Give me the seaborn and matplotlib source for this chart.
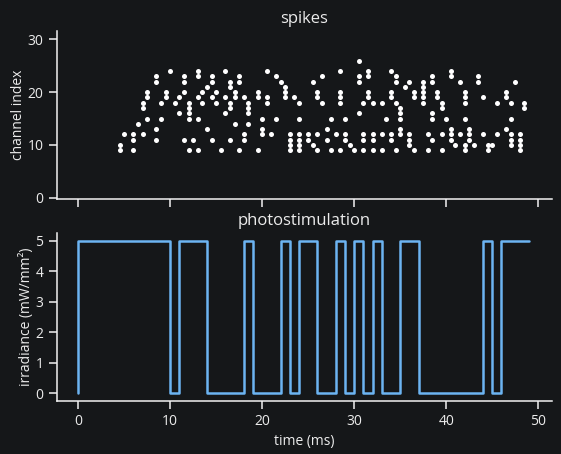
import numpy as np
import pandas as pd
import matplotlib
matplotlib.use("Agg")
import matplotlib.pyplot as plt
import seaborn as sns

# ---- data ----
spike_times = [
    4.5, 4.5, 5.0, 6.0, 6.0, 6.0, 6.5, 7.0, 7.0, 7.0, 7.5, 7.5, 7.5, 8.5, 8.5, 8.5, 8.5,
    9.0, 9.0, 9.5, 9.5, 10.0, 10.5, 11.0, 11.0, 11.5, 11.5, 11.5, 11.5, 12.0, 12.0, 12.0,
    12.0, 12.0, 12.5, 13.0, 13.0, 13.0, 13.0, 13.0, 13.5, 13.5, 14.0, 14.0, 14.5, 14.5,
    14.5, 14.5, 15.0, 15.0, 15.5,
    16.0, 16.0, 16.0, 16.5, 16.5, 16.5, 16.5, 16.5, 17.0, 17.0, 17.0, 17.5, 17.5, 17.5,
    18.0, 18.0, 18.0, 18.5, 18.5, 18.5, 18.5, 19.5, 19.5, 19.5, 20.0, 20.0, 20.0, 20.5,
    20.5, 20.5, 21.0, 21.5, 21.5, 22.0, 22.5, 22.5, 22.5, 23.0, 23.0, 23.0, 23.0, 23.5,
    24.0, 24.0, 24.0, 24.0, 24.0, 24.0, 25.0, 25.0, 25.5, 25.5, 26.0, 26.0, 26.0, 26.0,
    26.5, 26.5, 27.0, 27.0,
    27.5, 27.5, 28.0, 28.5, 28.5, 28.5, 28.5, 28.5, 29.0, 29.0, 29.0, 29.5, 30.0, 30.5,
    30.5, 30.5, 30.5, 31.0, 31.0, 31.0, 31.0, 31.5, 31.5, 31.5, 31.5, 32.0, 32.0, 32.0,
    32.0, 33.0, 33.0, 33.0, 33.5, 34.0, 34.0, 34.0, 34.0, 34.0, 34.5, 34.5, 34.5, 34.5,
    35.0, 35.0, 35.0, 35.0, 35.0, 35.5, 36.0, 36.0, 36.0, 36.0, 36.5, 36.5, 36.5, 37.5,
    37.5, 37.5, 37.5, 37.5, 38.0, 38.0, 38.5, 38.5, 38.5, 38.5, 38.5,
    39.0, 39.0, 39.5, 39.5, 39.5, 39.5, 40.0, 40.5, 40.5, 40.5, 40.5, 40.5, 41.0, 41.5,
    41.5, 42.0, 42.0, 42.0, 42.0, 42.0, 42.0, 42.5, 42.5, 42.5, 43.0, 43.5, 43.5, 44.0,
    44.0, 44.5, 44.5, 45.0, 45.5, 45.5, 46.5, 46.5, 46.5, 47.0, 47.0, 47.0, 47.0, 47.0,
    47.5, 48.0, 48.0, 48.0, 48.0, 48.5, 48.5,
]
spike_channels = [
    10, 9, 12, 12, 11, 9, 14, 18, 17, 12, 20, 19, 15, 23, 22, 13, 11,
    18, 15, 20, 19, 24, 18, 19, 16, 23, 22, 20, 11, 18, 17, 16,
    15, 9, 11, 24, 23, 19, 15, 9, 20, 18, 21, 13, 23, 22,
    19, 11, 20, 18, 9,
    24, 19, 16, 22, 21, 18, 17, 11, 20, 19, 14, 23, 22, 9,
    19, 12, 11, 18, 17, 16, 14, 20, 19, 9, 15, 13, 12, 24,
    19, 18, 12, 23, 15, 22, 21, 20, 19, 12, 11, 10, 9, 19,
    18, 15, 12, 11, 10, 9, 12, 11, 22, 10, 20, 19, 12, 9,
    23, 18, 13, 11,
    15, 9, 12, 24, 20, 19, 18, 9, 15, 12, 11, 10, 9, 26,
    23, 22, 16, 18, 12, 11, 9, 24, 23, 20, 19, 18, 12, 11,
    9, 18, 12, 9, 15, 24, 20, 19, 12, 11, 23, 22, 18, 9,
    17, 16, 15, 13, 12, 21, 22, 12, 11, 10, 20, 19, 9, 22,
    21, 20, 19, 18, 12, 9, 23, 22, 16, 15, 11,
    20, 19, 18, 17, 12, 9, 15, 24, 23, 13, 12, 11, 10, 22,
    12, 20, 19, 18, 15, 10, 9, 13, 12, 11, 10, 23, 22, 19,
    12, 10, 9, 10, 18, 12, 20, 19, 13, 18, 15, 12, 11, 10,
    22, 12, 11, 10, 9, 18, 17,
]

time_ms = list(range(50))
irradiance = [0, 5, 5, 5, 5, 5, 5, 5, 5, 5, 5, 0, 5, 5, 5, 0, 0, 0, 0, 5,
              0, 0, 0, 5, 0, 5, 5, 0, 0, 5, 0, 5, 0, 5, 0, 0, 5, 5, 0, 0,
              0, 0, 0, 0, 0, 5, 0, 5, 5, 5]

spikes = pd.DataFrame({"time": spike_times, "channel": spike_channels})
stim = pd.DataFrame({"time": time_ms, "irradiance": irradiance})

# ---- style ----
bg = "#151719"
fg = "#ececec"
sns.set_theme(style="ticks")
plt.rcParams.update({
    "figure.facecolor": bg,
    "axes.facecolor": bg,
    "axes.edgecolor": "#f2f2f2",
    "axes.labelcolor": fg,
    "text.color": fg,
    "xtick.color": "#f2f2f2",
    "ytick.color": "#f2f2f2",
    "xtick.labelcolor": fg,
    "ytick.labelcolor": fg,
    "axes.linewidth": 1.1,
    "xtick.major.width": 1.1,
    "ytick.major.width": 1.1,
    "xtick.labelsize": 10,
    "ytick.labelsize": 10,
    "axes.labelsize": 10,
    "axes.titlesize": 12,
})
plt.rcParams["font.family"] = ["Open Sans", "DejaVu Sans"]

fig = plt.figure(figsize=(5.61, 4.54), dpi=100)
ax1 = fig.add_axes([0.101, 0.5617, 0.883, 0.370])
ax2 = fig.add_axes([0.101, 0.1174, 0.883, 0.3694], sharex=ax1)

sns.scatterplot(data=spikes, x="time", y="channel", ax=ax1, color="white",
                s=13, linewidth=0, legend=False)
ax1.set_ylim(-0.25, 31.6)
ax1.set_yticks([0, 10, 20, 30])
ax1.set_title("spikes", pad=6)
ax1.set_ylabel("channel index", labelpad=1)
ax1.set_xlabel("")
plt.setp(ax1.get_xticklabels(), visible=False)

sns.lineplot(data=stim, x="time", y="irradiance", ax=ax2, color="#6cb4f2",
             linewidth=1.8, drawstyle="steps-pre")
ax2.set_title("photostimulation", pad=6)
ax2.set_ylabel("irradiance (mW/mm²)", labelpad=1)
ax2.set_xlabel("time (ms)")
ax2.set_xticks([0, 10, 20, 30, 40, 50])
ax2.set_yticks([0, 1, 2, 3, 4, 5])
ax2.set_xlim(-2.35, 51.5)

sns.despine(fig=fig)
fig.savefig("out.png", dpi=100, facecolor=bg)
